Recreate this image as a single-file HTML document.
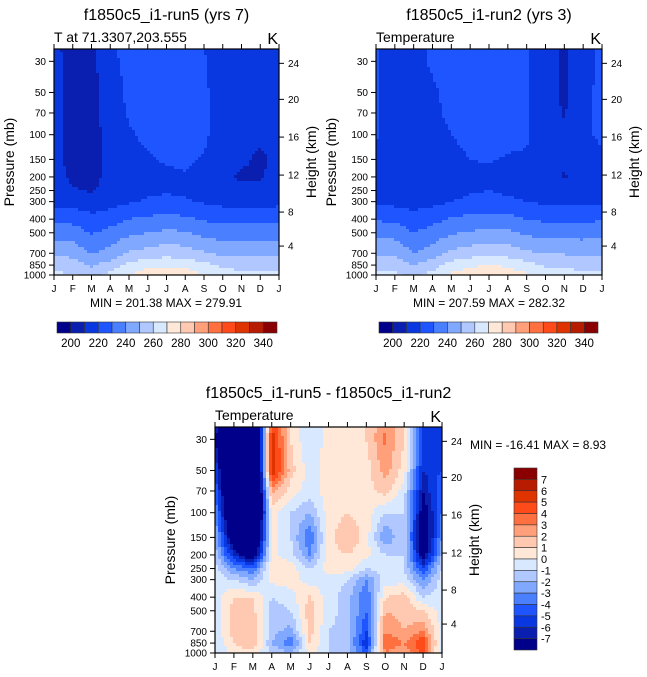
<!DOCTYPE html>
<html><head><meta charset="utf-8">
<style>
html,body{margin:0;padding:0;background:#fff;}
svg{display:block;font-family:"Liberation Sans",Arial,sans-serif;}
</style></head>
<body>
<svg id="fig" width="647" height="677" viewBox="0 0 647 677"></svg>
<script>
// ---- data ----
const months = ['J','F','M','A','M','J','J','A','S','O','N','D','J'];
const pLevels = [25,30,50,70,100,150,200,250,300,400,500,700,850,1000];
const pTicks = [30,50,70,100,150,200,250,300,400,500,700,850,1000];
const kmTicks = [4,8,12,16,20,24];
const kmTickPressures = [622,356,194,104,56,31];
const colors = ['#00008a','#0a1eb0','#0a38e0','#1e55ff','#4a80ff','#80a8ff','#b0c8ff','#d8e8ff','#ffe8d8','#ffc8b0','#ffa07a','#ff7040','#ff4a1a','#e03400','#b81c00','#8a0000'];
const tempLabels = [200,220,240,260,280,300,320,340];
const diffLabels = [7,6,5,4,3,2,1,0,-1,-2,-3,-4,-5,-6,-7];

const run5 = [
 [212,207,207,219,222,221,221,221,220,214,214,214,212],
 [212,207,207,218,222,222,222,222,221,214,214,214,212],
 [213,206,206,216,222,223,223,223,222,214,213,213,213],
 [213,206,206,215,221,223,223,223,222,214,213,213,213],
 [213,206,206,214,219,222,223,223,222,214,213,212,213],
 [213,207,206,213,217,219,221,222,219,214,212,208,213],
 [214,208,207,213,215,217,218,219,217,214,208,209,214],
 [215,211,209,214,216,219,219,219,216,215,213,212,215],
 [217,216,214,216,219,221,222,221,219,217,217,217,217],
 [228,227,223,226,230,232,233,232,229,227,227,227,228],
 [236,235,229,233,238,240,242,241,237,235,235,235,236],
 [248,247,239,244,251,254,256,255,251,248,248,247,248],
 [256,255,249,254,263,267,268,267,263,258,258,256,256],
 [262,261,256,263,271,275,276,275,271,265,261,262,262]
];
const run2 = [
 [221,216,218,221,223,224,224,224,221,216,208,218,221],
 [221,216,218,221,223,224,224,224,221,216,208,218,221],
 [221,215,216,219,222,224,224,224,221,216,208,219,221],
 [221,214,215,218,222,224,224,224,221,215,209,219,221],
 [221,214,214,216,220,223,223,223,221,215,213,219,221],
 [219,213,213,214,217,220,221,219,219,214,213,217,219],
 [216,213,213,214,215,216,217,216,215,214,209,214,216],
 [216,215,214,215,217,219,220,218,217,216,215,215,216],
 [218,217,216,217,220,222,223,222,220,218,218,218,218],
 [229,228,224,227,231,233,234,233,230,228,228,228,229],
 [237,236,230,234,239,241,243,242,238,236,236,236,237],
 [249,248,240,245,252,255,257,256,252,249,249,248,249],
 [257,256,250,255,264,268,270,268,264,259,259,257,257],
 [263,262,257,264,272,275,282,275,272,266,262,263,263]
];
const diff = [
 [-6,-12,-14,5,1,-1,0.5,0.5,1,3,1,-5,-6],
 [-7,-13,-15,6,1,-1,0.5,0.5,1,3.2,1,-5,-6],
 [-5,-13,-16,6,1.5,-0.5,0.5,0.5,0.5,2.5,0.5,-6,-5],
 [-4,-12,-15,2.5,0.5,-0.5,0.5,0.5,0.5,1.5,-0.5,-7,-4],
 [-3,-11,-14,0.5,-1,-2,0.5,1,0.5,-1,-1,-8,-4],
 [-2,-9,-12,0.5,-1,-4,0.5,2,0.5,-3,-1,-9,-3],
 [-1.5,-6,-9,0.3,-0.5,-3,0.5,1,0.3,-1,-1,-8,-2],
 [-0.5,-3,-4,0.5,0.5,-1,0.5,0.5,-1,-0.5,-1,-5,-1],
 [-0.5,-1,-2,0.3,0.5,-0.5,-0.5,-1,-3,-0.5,-0.5,-3,-0.5],
 [-0.5,1,1,-1,-0.5,1.2,-0.5,-1.5,-4,1,1.5,-1,-0.5],
 [-0.5,1.5,1.3,-1.5,-1,1.5,-0.5,-1.5,-4,2,1.5,1,-0.5],
 [-0.5,1.5,2,-1.5,-2.5,1.5,-1,-1.5,-5,3,2,3,-0.5],
 [-1,1,2,-2,-4,1,-1,-1.5,-6,4,3,5,-1],
 [-1,0.5,0.5,-1,-2,0.3,-1,-1.5,-4,3,2,4.5,-1]
];

// ---- drawing ----
const NS='http://www.w3.org/2000/svg';
const svg=document.getElementById('fig');
function mk(tag,attrs,parent){const e=document.createElementNS(NS,tag);for(const k in attrs)e.setAttribute(k,attrs[k]);(parent||svg).appendChild(e);return e;}
function txt(s,x,y,size,anchor,parent,extra){const t=mk('text',Object.assign({x:x,y:y,'font-size':size,'text-anchor':anchor||'start'},extra||{}),parent);t.textContent=s;return t;}
const P_TOP=24.5;

function drawPanel(o){
  const g=mk('g',{});
  
  
  const W=o.x1-o.x0,H=o.y1-o.y0;
  const dec=H/Math.log10(1000/P_TOP);
  const yOf=p=>o.y1-dec*Math.log10(1000/p);
  const xOf=m=>o.x0+W*m/12;
  const lp=pLevels.map(p=>Math.log10(p));
  const cell=3;
  const fill=mk('g',{},g);
  
  
  for(let y=o.y0;y<o.y1;y+=cell){
    const yc=Math.min(y+cell/2,o.y1);
    let l=Math.log10(1000)-(o.y1-yc)/dec;
    let r=0;while(r<lp.length-2&&l>lp[r+1])r++;
    let fy=(l-lp[r])/(lp[r+1]-lp[r]);fy=Math.max(0,Math.min(1,fy));
    const hh=Math.min(cell,o.y1-y);
    let runStart=o.x0,runIdx=-1;
    const flush=(xe)=>{
      if(runIdx<0)return;
      const rc=mk('rect',{x:runStart,y:y,width:Math.min(xe,o.x1)-runStart+0.5,height:hh+0.5,fill:colors[runIdx]},fill);
      
      
    };
    for(let x=o.x0;x<o.x1;x+=cell){
      const m=Math.min(12,(x+cell/2-o.x0)/W*12);
      let c=Math.min(11,Math.floor(m));let fx=Math.max(0,Math.min(1,m-c));
      const d=o.data;
      const v=(d[r][c]*(1-fx)+d[r][c+1]*fx)*(1-fy)+(d[r+1][c]*(1-fx)+d[r+1][c+1]*fx)*fy;
      let idx=Math.floor((v-o.base)/o.step)+1;idx=Math.max(0,Math.min(15,idx));
      if(idx!==runIdx){flush(x);runStart=x;runIdx=idx;}
    }
    flush(o.x1);
  }
  mk('rect',{x:o.x0,y:o.y0,width:W,height:H,fill:'none',stroke:'#000','stroke-width':1.2},g);
  pTicks.forEach(p=>{const y=yOf(p);mk('line',{x1:o.x0-5,x2:o.x0,y1:y,y2:y,stroke:'#000'},g);
    const t=txt(p,o.x0-8,y+3.5,10,'end',g);});
  kmTicks.forEach((k,i)=>{const y=yOf(kmTickPressures[i]);mk('line',{x1:o.x1,x2:o.x1+5,y1:y,y2:y,stroke:'#000'},g);
    const t=txt(k,o.x1+9,y+3.5,10,'start',g);});
  months.forEach((m,i)=>{const x=xOf(i);mk('line',{x1:x,x2:x,y1:o.y1,y2:o.y1+5,stroke:'#000'},g);mk('line',{x1:x,x2:x,y1:o.y0-5,y2:o.y0,stroke:'#000'},g);
    const t=txt(m,x,o.y1+17,10,'middle',g);});
  let t=txt(o.title,(o.x0+o.x1)/2,o.y0-29,16,'middle',g);
  t=txt(o.sub,o.x0,o.y0-7,14,'start',g);
  t=txt('K',o.x1-1,o.y0-5,16,'end',g);
  t=txt('Pressure (mb)',0,0,14,'middle',g,{transform:`translate(${o.x0-40},${(o.y0+o.y1)/2}) rotate(-90)`});
  t=txt('Height (km)',0,0,14,'middle',g,{transform:`translate(${o.x1+37},${(o.y0+o.y1)/2}) rotate(-90)`});
  return g;
}

function hColorbar(x0,x1,y0,y1,name){
  const g=mk('g',{});
  
  
  const w=(x1-x0)/colors.length;
  colors.forEach((c,i)=>{const r=mk('rect',{x:x0+i*w,y:y0,width:w,height:y1-y0,fill:c,stroke:'#333','stroke-width':0.6},g);
    });
  tempLabels.forEach((v,i)=>{const t=txt(v,x0+w*(1+2*i),y1+14,11.5,'middle',g);});
}

drawPanel({name:'run5-panel',x0:54,x1:279,y0:49,y1:275,data:run5,base:200,step:10,title:'f1850c5_i1-run5 (yrs 7)',sub:'T at 71.3307,203.555'});
drawPanel({name:'run2-panel',x0:376,x1:602,y0:49,y1:275,data:run2,base:200,step:10,title:'f1850c5_i1-run2 (yrs 3)',sub:'Temperature'});
drawPanel({name:'diff-panel',x0:215,x1:442,y0:427,y1:653,data:diff,base:-7,step:1,title:'f1850c5_i1-run5 - f1850c5_i1-run2',sub:'Temperature'});

let t=txt('MIN = 201.38 MAX = 279.91',166,307,12,'middle');
t=txt('MIN = 207.59 MAX = 282.32',489,307,12,'middle');
t=txt('MIN = -16.41 MAX =   8.93',470,449,12,'start',null,{'xml:space':'preserve'});

hColorbar(57,277,322,333,'run5-colorbar');
hColorbar(379,598,322,333,'run2-colorbar');

(function(){
  const g=mk('g',{});
  
  
  const x0=514,x1=537,y0=468,y1=650,h=(y1-y0)/colors.length;
  colors.slice().reverse().forEach((c,i)=>{const r=mk('rect',{x:x0,y:y0+i*h,width:x1-x0,height:h,fill:c,stroke:'#333','stroke-width':0.6},g);
    });
  diffLabels.forEach((v,i)=>{const t=txt(v,x1+4,y0+h*(i+1)+4,11,'start',g);});
})();
</script>
</body></html>
